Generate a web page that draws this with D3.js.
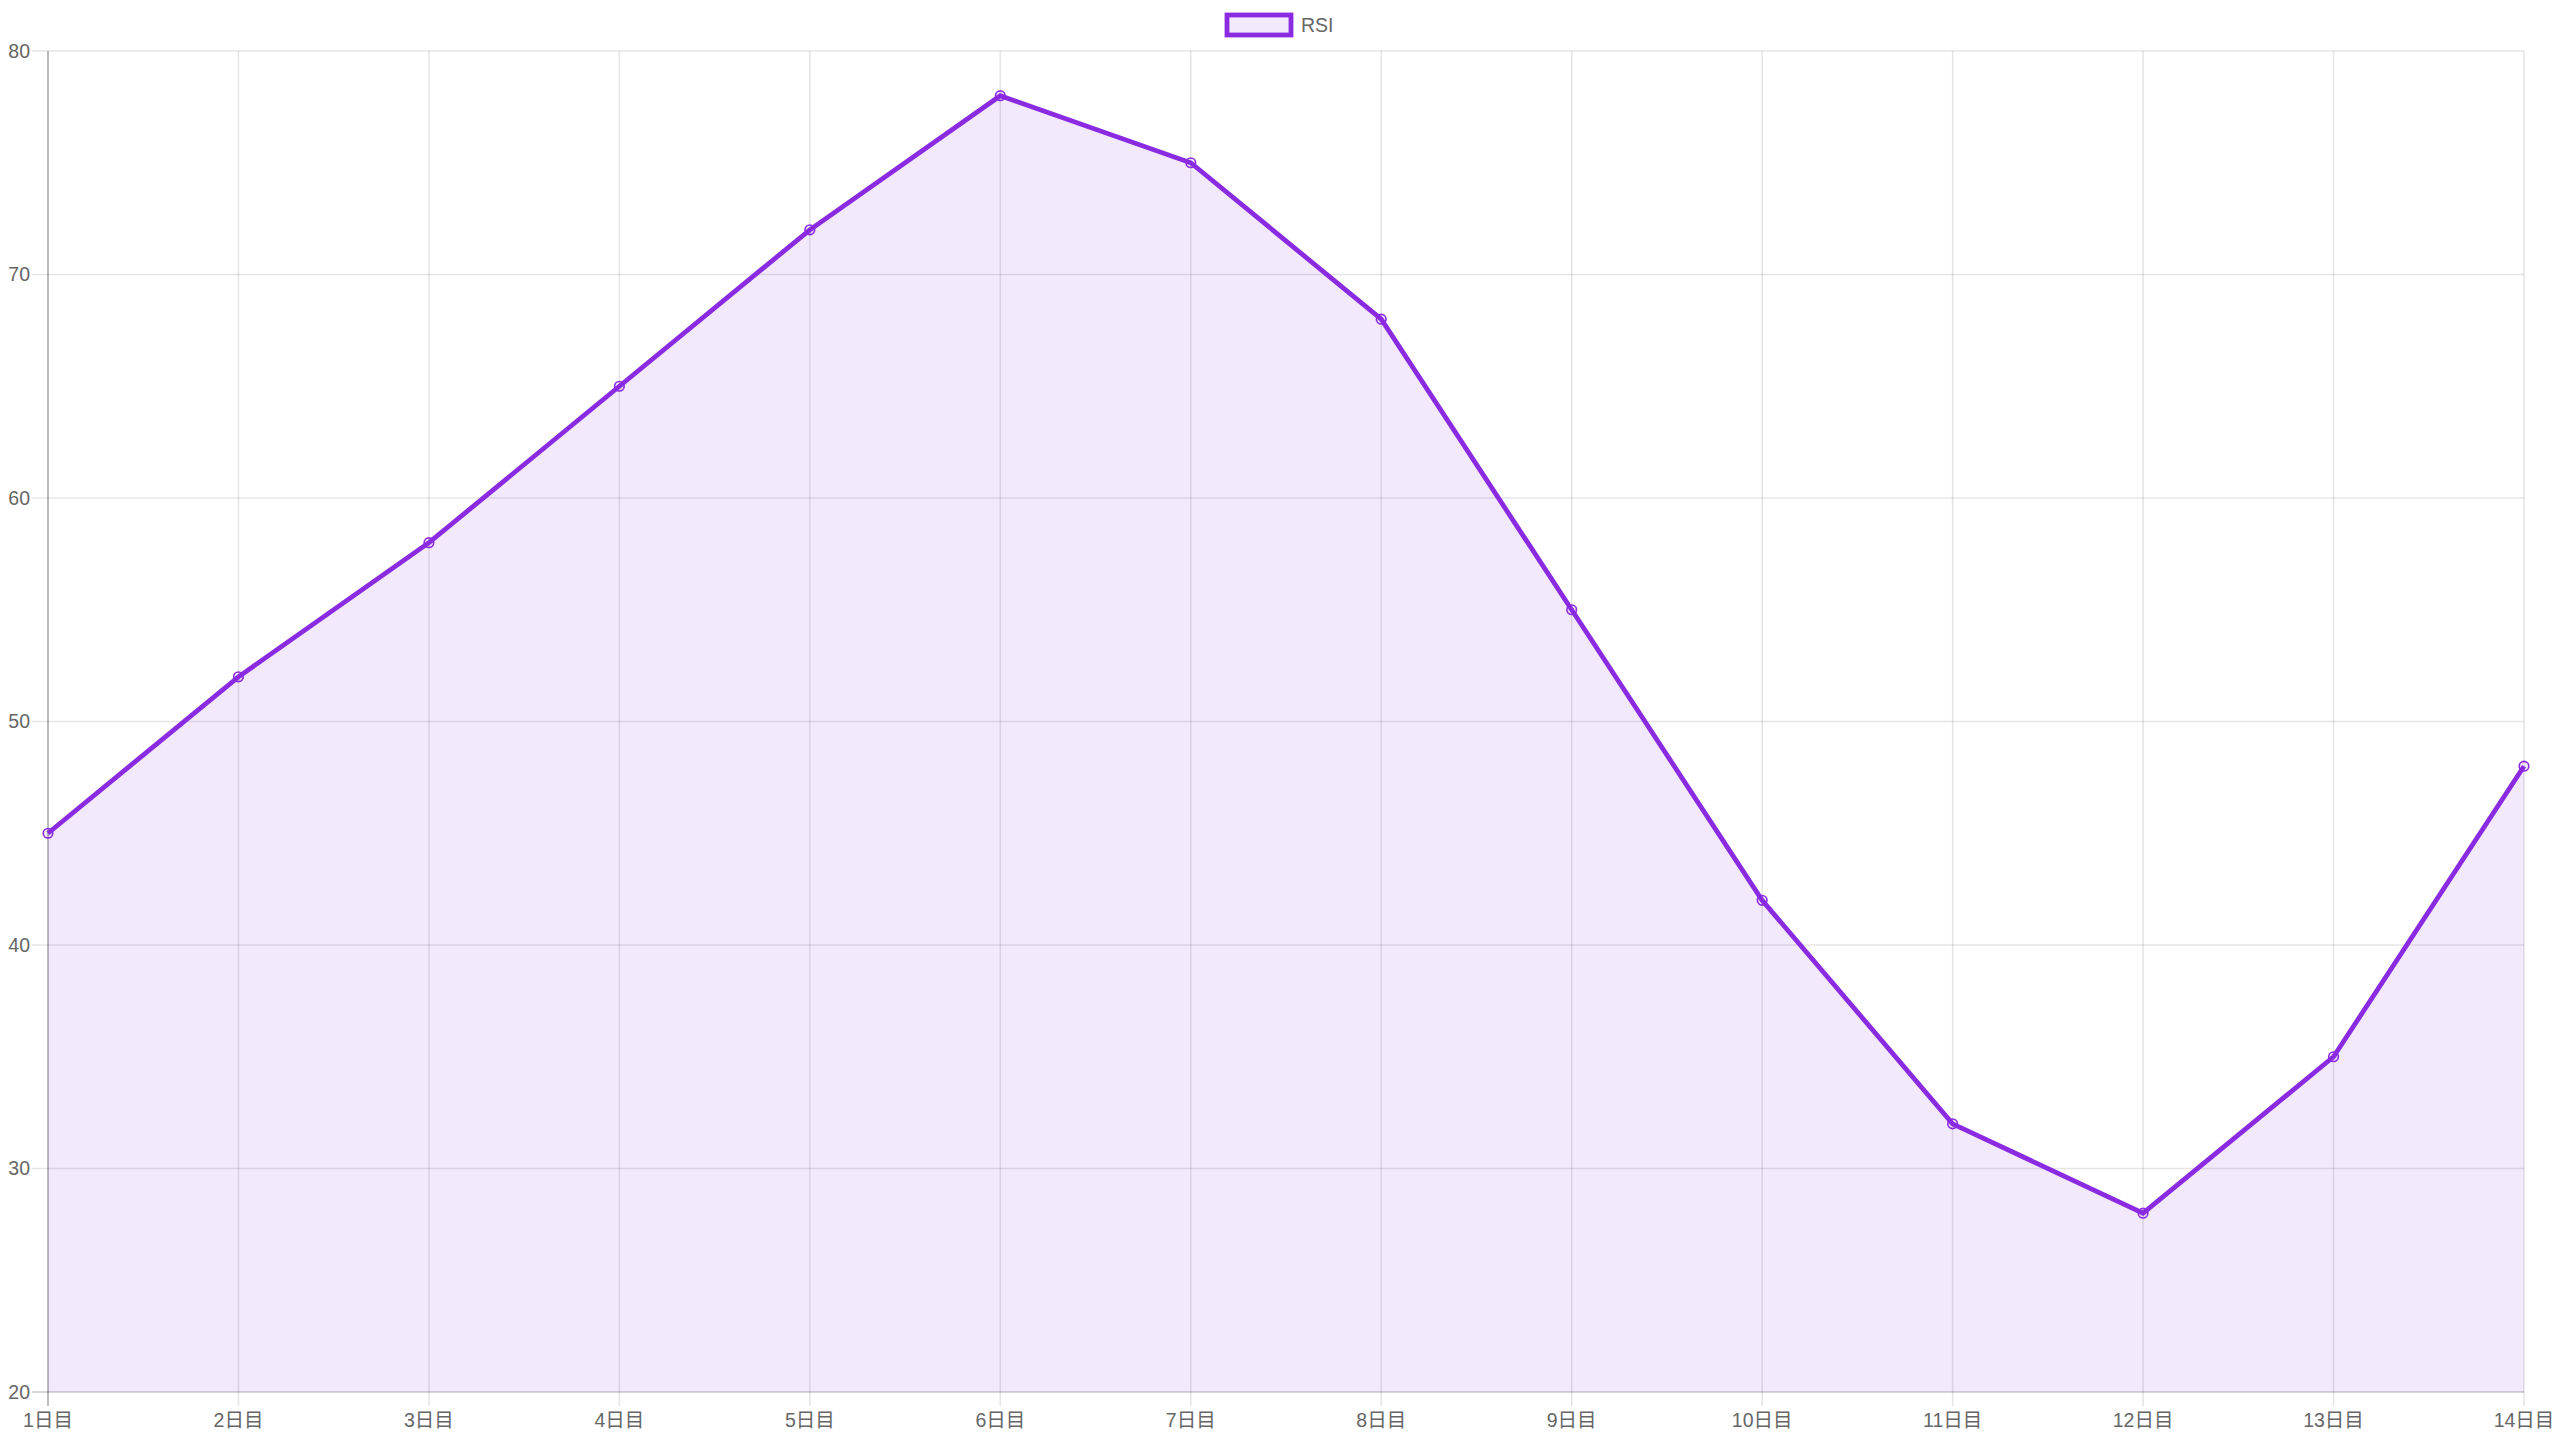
<!DOCTYPE html>
<html><head><meta charset="utf-8">
<script src="https://cdn.jsdelivr.net/npm/d3@7"></script>
<style>html,body{margin:0;padding:0;background:#fff;}svg{display:block;}</style>
</head><body>
<svg id="c" width="2560" height="1440"></svg>
<script>
const categories = ["1日目","2日目","3日目","4日目","5日目","6日目","7日目","8日目","9日目","10日目","11日目","12日目","13日目","14日目"];
const rsiValues = [45,52,58,65,72,78,75,68,55,42,32,28,35,48];
const yTicks = [20,30,40,50,60,70,80];
const seriesName = "RSI";

const W = 2560, H = 1440;
const m = {l:48, r:36, t:51, b:48};
const svg = d3.select("#c");
const font = "'Liberation Sans', Arial, 'Noto Sans CJK JP', sans-serif";
const color = "#8a2be2";

const x = d3.scalePoint().domain(categories).range([m.l, W - m.r]);
const y = d3.scaleLinear().domain([20,80]).range([H - m.b, m.t]);

// grid
const g = svg.append("g");
g.selectAll(".hg").data(yTicks).enter().append("line")
  .attr("x1", m.l - 16).attr("x2", W - m.r)
  .attr("y1", d => y(d)).attr("y2", d => y(d))
  .attr("stroke", "rgba(0,0,0,0.1)").attr("stroke-width", 1.6);
g.selectAll(".vg").data(categories).enter().append("line")
  .attr("x1", d => x(d)).attr("x2", d => x(d))
  .attr("y1", m.t).attr("y2", H - m.b + 14)
  .attr("stroke", "rgba(0,0,0,0.1)").attr("stroke-width", 1.6);

// fill
const area = d3.area().x((d,i) => x(categories[i])).y0(y(20)).y1(d => y(d));
svg.append("path").datum(rsiValues).attr("d", area).attr("fill", "rgba(138,43,226,0.1)");

// axis lines
svg.append("line").attr("x1", m.l).attr("x2", m.l).attr("y1", m.t).attr("y2", H - m.b + 14)
  .attr("stroke", "rgba(0,0,0,0.25)").attr("stroke-width", 1.6);
svg.append("line").attr("x1", m.l - 16).attr("x2", W - m.r).attr("y1", H - m.b).attr("y2", H - m.b)
  .attr("stroke", "rgba(0,0,0,0.12)").attr("stroke-width", 1.6);

// line
const line = d3.line().x((d,i) => x(categories[i])).y(d => y(d));
svg.append("path").datum(rsiValues).attr("d", line).attr("fill", "none")
  .attr("stroke", color).attr("stroke-width", 4.8).attr("stroke-linejoin", "miter");

// points
svg.selectAll(".pt").data(rsiValues).enter().append("circle")
  .attr("cx", (d,i) => x(categories[i])).attr("cy", d => y(d)).attr("r", 4.8)
  .attr("fill", "rgba(138,43,226,0.1)").attr("stroke", color).attr("stroke-width", 1.6);

// y labels
svg.selectAll(".yl").data(yTicks).enter().append("text")
  .attr("x", m.l - 18).attr("y", d => y(d)).attr("dy", "0.35em")
  .attr("text-anchor", "end").attr("font-family", font).attr("font-size", 19.5)
  .attr("fill", "#666").text(d => d);

// x labels
svg.selectAll(".xl").data(categories).enter().append("text")
  .attr("x", d => x(d)).attr("y", H - m.b + 35)
  .attr("text-anchor", "middle").attr("font-family", font).attr("font-size", 19.5)
  .attr("fill", "#666").text(d => d);

// legend
const lg = svg.append("g");
lg.append("rect").attr("x", 1227).attr("y", 15).attr("width", 64).attr("height", 20)
  .attr("fill", "rgba(138,43,226,0.1)").attr("stroke", color).attr("stroke-width", 4.8);
lg.append("text").attr("x", 1301).attr("y", 25).attr("dy", "0.35em")
  .attr("font-family", font).attr("font-size", 19.5).attr("fill", "#666").text(seriesName);
</script>
</body></html>
